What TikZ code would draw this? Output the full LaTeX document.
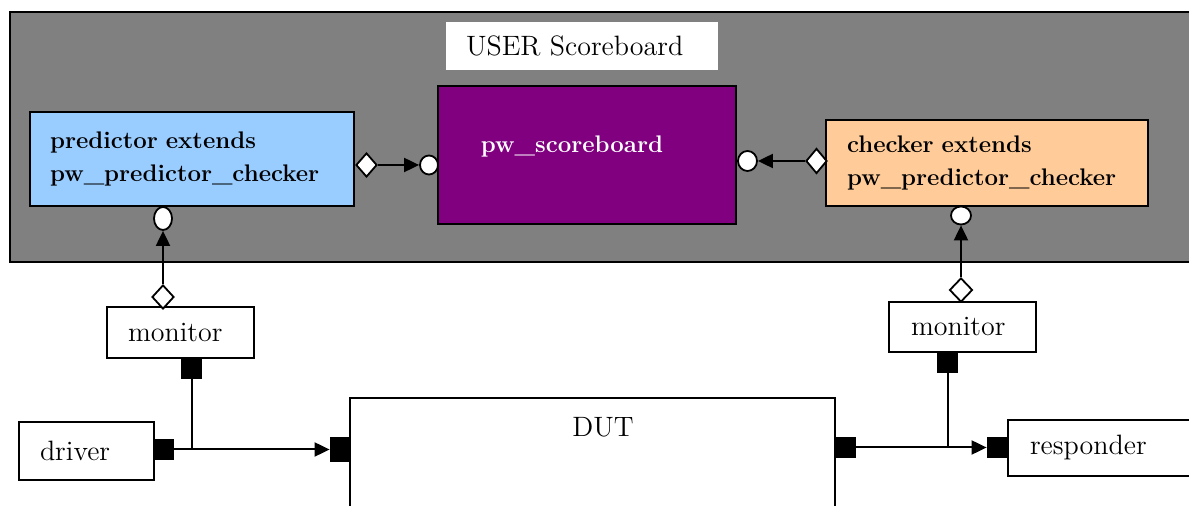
\documentclass[tikz,border=0pt]{standalone}
\usetikzlibrary{shapes.geometric,arrows.meta}
\definecolor{bggray}{HTML}{808080}
\definecolor{predblue}{HTML}{99CCFF}
\definecolor{chkorange}{HTML}{FFCC99}
\definecolor{sbpurple}{HTML}{800080}
\tikzset{
  plain/.style={font=\fontsize{14}{17}\selectfont},
  boldtxt/.style={font=\fontsize{12}{16.5}\selectfont\bfseries},
  box/.style={draw, line width=0.9pt, inner sep=0pt, align=left},
  port/.style={diamond, draw, fill=white, line width=0.9pt, inner sep=0pt},
  export/.style={ellipse, draw, fill=white, line width=0.9pt, inner sep=0pt},
  pin/.style={rectangle, fill=black, inner sep=0pt},
  link/.style={line width=1pt},
  flow/.style={line width=1pt, -{Triangle[length=7.5pt,width=7pt]}},
}
\begin{document}
\begin{tikzpicture}[x=0.5pt,y=-0.5pt]
\clip (0,0) rectangle (1189,506);
\fill[white] (0,0) rectangle (1189,506);

% scoreboard environment
\draw[fill=bggray, line width=0.9pt] (10,12) rectangle (1210,262);
\node[fill=white, plain, minimum width=136pt, minimum height=24pt,
      inner sep=0pt, inner xsep=10pt, text width=116pt, align=left]
      (user) at (582,46) {USER Scoreboard};

\node[box, fill=predblue, boldtxt, minimum width=162pt, minimum height=47pt,
      inner xsep=10pt, text width=142pt] (pred) at (192,159)
      {predictor extends\\pw\_predictor\_checker};
\node[box, fill=sbpurple, minimum width=149pt, minimum height=69pt] (sb) at (587,155) {};
\node[boldtxt, text=white] (sbname) at (572,147) {pw\_scoreboard};
\node[box, fill=chkorange, boldtxt, minimum width=161pt, minimum height=43pt,
      inner xsep=10.5pt, text width=140pt] (chk) at (987,163)
      {checker extends\\pw\_predictor\_checker};

% testbench components
\node[box, fill=white, plain, minimum width=73.5pt, minimum height=25.5pt,
      inner xsep=10.5pt, text width=52.5pt] (mon1) at (180.5,332.5) {monitor};
\node[box, fill=white, plain, minimum width=73.5pt, minimum height=25pt,
      inner xsep=11pt, text width=51.5pt] (mon2) at (962.5,327) {monitor};
\node[box, fill=white, plain, minimum width=67.5pt, minimum height=29pt,
      inner xsep=10.5pt, text width=46.5pt] (drv) at (86.5,451) {driver};
\node[box, fill=white, plain, minimum width=101pt, minimum height=28pt,
      inner xsep=11pt, text width=79pt] (resp) at (1109,448) {responder};
\node[box, fill=white, minimum width=242.5pt, minimum height=66pt] (dut) at (592.5,464) {};
\node[plain] (dutname) at (603,427) {DUT};

% ports and exports
\node[port, minimum width=10.5pt, minimum height=12pt] (d1) at (366.5,165) {};
\node[export, minimum width=9pt, minimum height=9.5pt] (sc1) at (429,165) {};
\node[port, minimum width=10.5pt, minimum height=12.5pt] (d2) at (816.5,161) {};
\node[export, minimum width=9.5pt, minimum height=10pt] (sc2) at (747.5,161) {};
\node[export, minimum width=9pt, minimum height=11.5pt] (pc) at (163,218.5) {};
\node[port, minimum width=11pt, minimum height=12pt] (md1) at (163,297) {};
\node[export, minimum width=10pt, minimum height=9pt] (cc) at (961,215.5) {};
\node[port, minimum width=11.5pt, minimum height=12pt] (md2) at (961,290) {};

\node[pin, minimum width=10.5pt, minimum height=10pt] (ms1) at (191.5,369) {};
\node[pin, minimum width=10.5pt, minimum height=10.5pt] (ms2) at (947.5,362.5) {};
\node[pin, minimum width=10pt, minimum height=10.5pt] (ds) at (164,449.5) {};
\node[pin, minimum width=10pt, minimum height=12.5pt] (dutl) at (340,449.5) {};
\node[pin, minimum width=10.5pt, minimum height=10.5pt] (dutr) at (845.5,447.5) {};
\node[pin, minimum width=10.5pt, minimum height=10.5pt] (rsq) at (997.5,447.5) {};

% connections
\draw[flow] (d1) -- (sc1);
\draw[flow] (d2) -- (sc2);
\draw[flow] (md1) -- (pc);
\draw[flow] (md2) -- (cc);
\draw[flow] (ds) -- (dutl);
\draw[flow] (dutr) -- (rsq);
\draw[link] (ms1) -- (ms1 |- ds);
\draw[link] (ms2) -- (ms2 |- dutr);
\end{tikzpicture}
\end{document}
